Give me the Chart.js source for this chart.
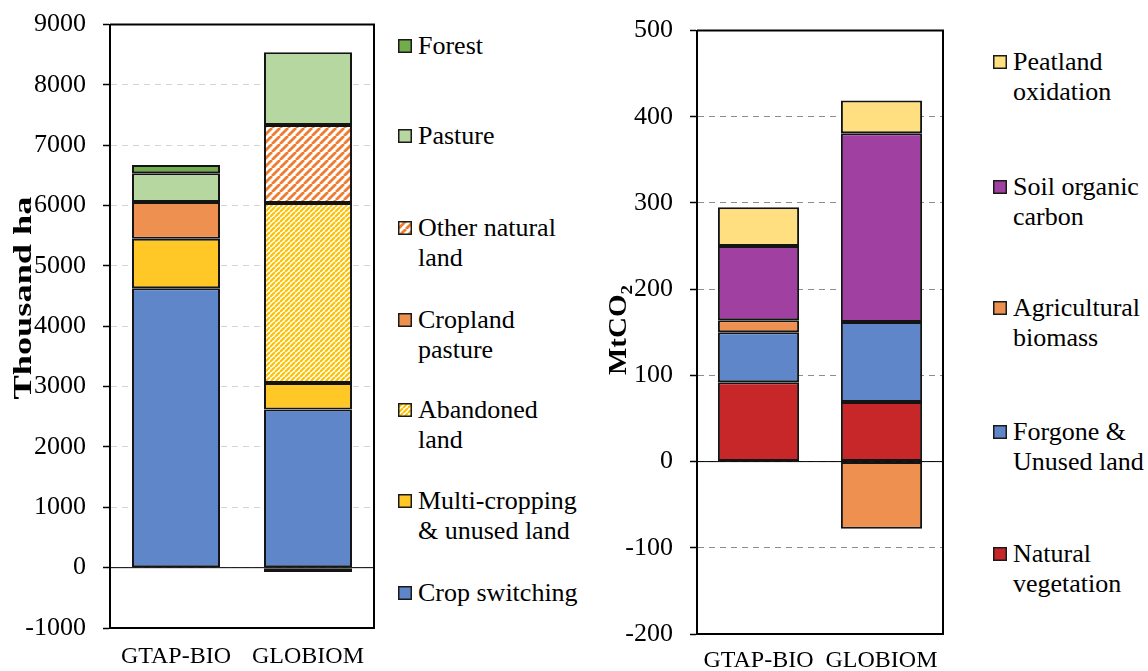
<!DOCTYPE html>
<html>
<head>
<meta charset="utf-8">
<script src="https://cdn.jsdelivr.net/npm/chart.js@4.4.1/dist/chart.umd.min.js"></script>
<style>
  body { margin: 0; background: #fff; }
  #page { position: relative; width: 1148px; height: 671px; overflow: hidden; font-family: 'Liberation Serif', 'Times New Roman', serif; }
  .box { position: absolute; }
  .leg { position: absolute; font-size: 26px; line-height: 30px; white-space: pre; color: #000; }
  .leg canvas { position: absolute; left: 0; top: 8px; }
  .leg span { position: absolute; left: 20px; top: 0; }
</style>
</head>
<body>
<div id="page">
  <div class="box" style="left:0;top:-8px;width:380px;height:679px"><canvas id="landChart"></canvas></div>
  <div class="box" style="left:590px;top:-2px;width:360px;height:673px"><canvas id="co2Chart"></canvas></div>
</div>
<script>
// categories
const models = ["GTAP-BIO", "GLOBIOM"];

// land use change, thousand ha
const cropSwitching = [4630, 2620];
const multiCropping = [820, 440];
const abandonedLand = [null, 2985];
const croplandPasture = [610, null];
const otherNatural = [null, 1290];
const pasture = [475, 1205];
const forest = [140, -70];

// emissions, MtCO2
const naturalVeg = [92, 69];
const forgoneLand = [58, 93];
const agriBiomass = [14, -78];
const soilCarbon = [86, 219];
const peatland = [45, 38];

const landTicks = { min: -1000, max: 9000, step: 1000 };
const co2Ticks = { min: -200, max: 500, step: 100 };

const serif = "'Liberation Serif', 'Times New Roman', serif";
Chart.defaults.font.family = serif;
Chart.defaults.color = "#000";

function stripes(color, size, width) {
  const c = document.createElement("canvas");
  c.width = c.height = size;
  const g = c.getContext("2d");
  g.fillStyle = "#fff";
  g.fillRect(0, 0, size, size);
  g.strokeStyle = color;
  g.lineWidth = width;
  g.beginPath();
  for (let k = -1; k <= 1; k++) {
    g.moveTo(k * size, size);
    g.lineTo(k * size + size, 0);
  }
  g.stroke();
  return g.createPattern(c, "repeat");
}

const blue = "#5F86C9";
const orange = "#EE904F";
const col = {
  crop: blue,
  multi: "#FFC826",
  abandoned: stripes("#FFC000", 5, 2.2),
  cropPast: orange,
  otherNat: stripes("#EE7C30", 8, 2.8),
  pasture: "#B6D7A0",
  forest: "#72AD4C",
  natVeg: "#C8272A",
  forgone: blue,
  agri: orange,
  soil: "#A040A0",
  peat: "#FFDF7F"
};

function ds(label, data, color) {
  return {
    label, data,
    backgroundColor: color,
    borderColor: "#141414",
    borderWidth: 2,
    borderSkipped: false,
    barPercentage: 0.667,
    categoryPercentage: 1.0
  };
}

// frame, zero line and rotated y title
const framePlugin = {
  id: "frame",
  beforeDatasetsDraw(chart) {
    const { ctx, chartArea: a, scales: { y } } = chart;
    const z = y.getPixelForValue(0);
    ctx.save();
    ctx.strokeStyle = "#000";
    ctx.lineWidth = 1;
    ctx.beginPath();
    ctx.moveTo(a.left, z);
    ctx.lineTo(a.right, z);
    ctx.stroke();
    ctx.restore();
  },
  afterDraw(chart, args, opts) {
    const { ctx, chartArea: a } = chart;
    ctx.save();
    ctx.strokeStyle = "#000";
    ctx.lineWidth = 2;
    ctx.beginPath();
    ctx.moveTo(a.left, a.top);
    ctx.lineTo(a.right, a.top);
    ctx.lineTo(a.right, a.bottom);
    ctx.stroke();

    // y title
    ctx.translate(opts.x, opts.y);
    ctx.rotate(-Math.PI / 2);
    ctx.font = "bold 26px " + serif;
    const w1 = ctx.measureText(opts.text).width;
    ctx.font = "bold 17px " + serif;
    const w2 = opts.sub ? ctx.measureText(opts.sub).width : 0;
    const sx = opts.len / (w1 + w2);
    ctx.scale(sx, 1);
    ctx.fillStyle = "#000";
    ctx.textBaseline = "alphabetic";
    ctx.textAlign = "left";
    const x0 = -(w1 + w2) / 2;
    ctx.font = "bold 26px " + serif;
    ctx.fillText(opts.text, x0, 9);
    if (opts.sub) {
      ctx.font = "bold 17px " + serif;
      ctx.fillText(opts.sub, x0 + w1, 15);
    }
    ctx.restore();
  }
};

function makeChart(id, datasets, t, geo) {
  return new Chart(document.getElementById(id), {
    type: "bar",
    data: { labels: models, datasets },
    plugins: [framePlugin],
    options: {
      responsive: true,
      maintainAspectRatio: false,
      animation: false,
      layout: { padding: { top: geo.top, right: geo.right, bottom: 0, left: 0 } },
      plugins: {
        legend: { display: false },
        tooltip: { enabled: false },
        frame: geo.title
      },
      scales: {
        x: {
          stacked: true,
          grid: { display: false, drawTicks: false },
          border: { display: true, color: "#000", width: 2 },
          ticks: { font: { size: 24 }, padding: geo.xPad, color: "#000" },
          afterFit(s) { s.height = geo.xHeight; }
        },
        y: {
          stacked: true,
          min: t.min, max: t.max,
          grid: { color: geo.gridColor, lineWidth: 1, tickColor: "#000", tickLength: 7, tickWidth: 1.5 },
          border: { display: true, color: "#000", width: 2, dash: [6, 5] },
          ticks: {
            stepSize: t.step,
            font: { size: 26 },
            padding: 17,
            color: "#000",
            callback: v => String(v)
          },
          afterFit(s) { s.width = geo.yWidth; }
        }
      }
    }
  });
}

const landSets = [
  ds("Crop switching", cropSwitching, col.crop),
  ds("Multi-cropping & unused land", multiCropping, col.multi),
  ds("Abandoned land", abandonedLand, col.abandoned),
  ds("Cropland pasture", croplandPasture, col.cropPast),
  ds("Other natural land", otherNatural, col.otherNat),
  ds("Pasture", pasture, col.pasture),
  ds("Forest", forest, col.forest)
];

const co2Sets = [
  ds("Natural vegetation", naturalVeg, col.natVeg),
  ds("Forgone & Unused land", forgoneLand, col.forgone),
  ds("Agricultural biomass", agriBiomass, col.agri),
  ds("Soil organic carbon", soilCarbon, col.soil),
  ds("Peatland oxidation", peatland, col.peat)
];
co2Sets.forEach(d => { d.barPercentage = 0.66; });

// canvas coords: left box starts 8px above page, right box 2px above
makeChart("landChart", landSets, landTicks, {
  top: 24, right: 6, xHeight: 43, yWidth: 110, xPad: 14, gridColor: "#d4d4d4",
  title: { text: "Thousand ha", sub: "", x: 22, y: 306, len: 203 }
});
makeChart("co2Chart", co2Sets, co2Ticks, {
  top: 30, right: 2, xHeight: 37, yWidth: 107, xPad: 12, gridColor: "#8c8c8c",
  title: { text: "MtCO", sub: "2", x: 27, y: 332, len: 90 }
});

// legends
const landLegend = [
  ["Forest", col.forest, 46],
  ["Pasture", col.pasture, 136],
  ["Other natural\nland", col.otherNat, 228],
  ["Cropland\npasture", col.cropPast, 320],
  ["Abandoned\nland", col.abandoned, 410],
  ["Multi-cropping\n& unused land", col.multi, 501],
  ["Crop switching", col.crop, 593]
];
const co2Legend = [
  ["Peatland\noxidation", col.peat, 62],
  ["Soil organic\ncarbon", col.soil, 187],
  ["Agricultural\nbiomass", col.agri, 308],
  ["Forgone &\nUnused land", col.forgone, 432],
  ["Natural\nvegetation", col.natVeg, 554]
];

function addLegend(items, left) {
  const page = document.getElementById("page");
  items.forEach(([text, fill, cy]) => {
    const d = document.createElement("div");
    d.className = "leg";
    d.style.left = left + "px";
    d.style.top = (cy - 15) + "px";
    const c = document.createElement("canvas");
    c.width = 14; c.height = 14;
    const g = c.getContext("2d");
    g.fillStyle = fill;
    g.fillRect(0, 0, 14, 14);
    g.strokeStyle = "#1a1a1a";
    g.lineWidth = 1.5;
    g.strokeRect(0.75, 0.75, 12.5, 12.5);
    const s = document.createElement("span");
    s.textContent = text;
    d.appendChild(c);
    d.appendChild(s);
    page.appendChild(d);
  });
}
addLegend(landLegend, 398);
addLegend(co2Legend, 993);
</script>
</body>
</html>
